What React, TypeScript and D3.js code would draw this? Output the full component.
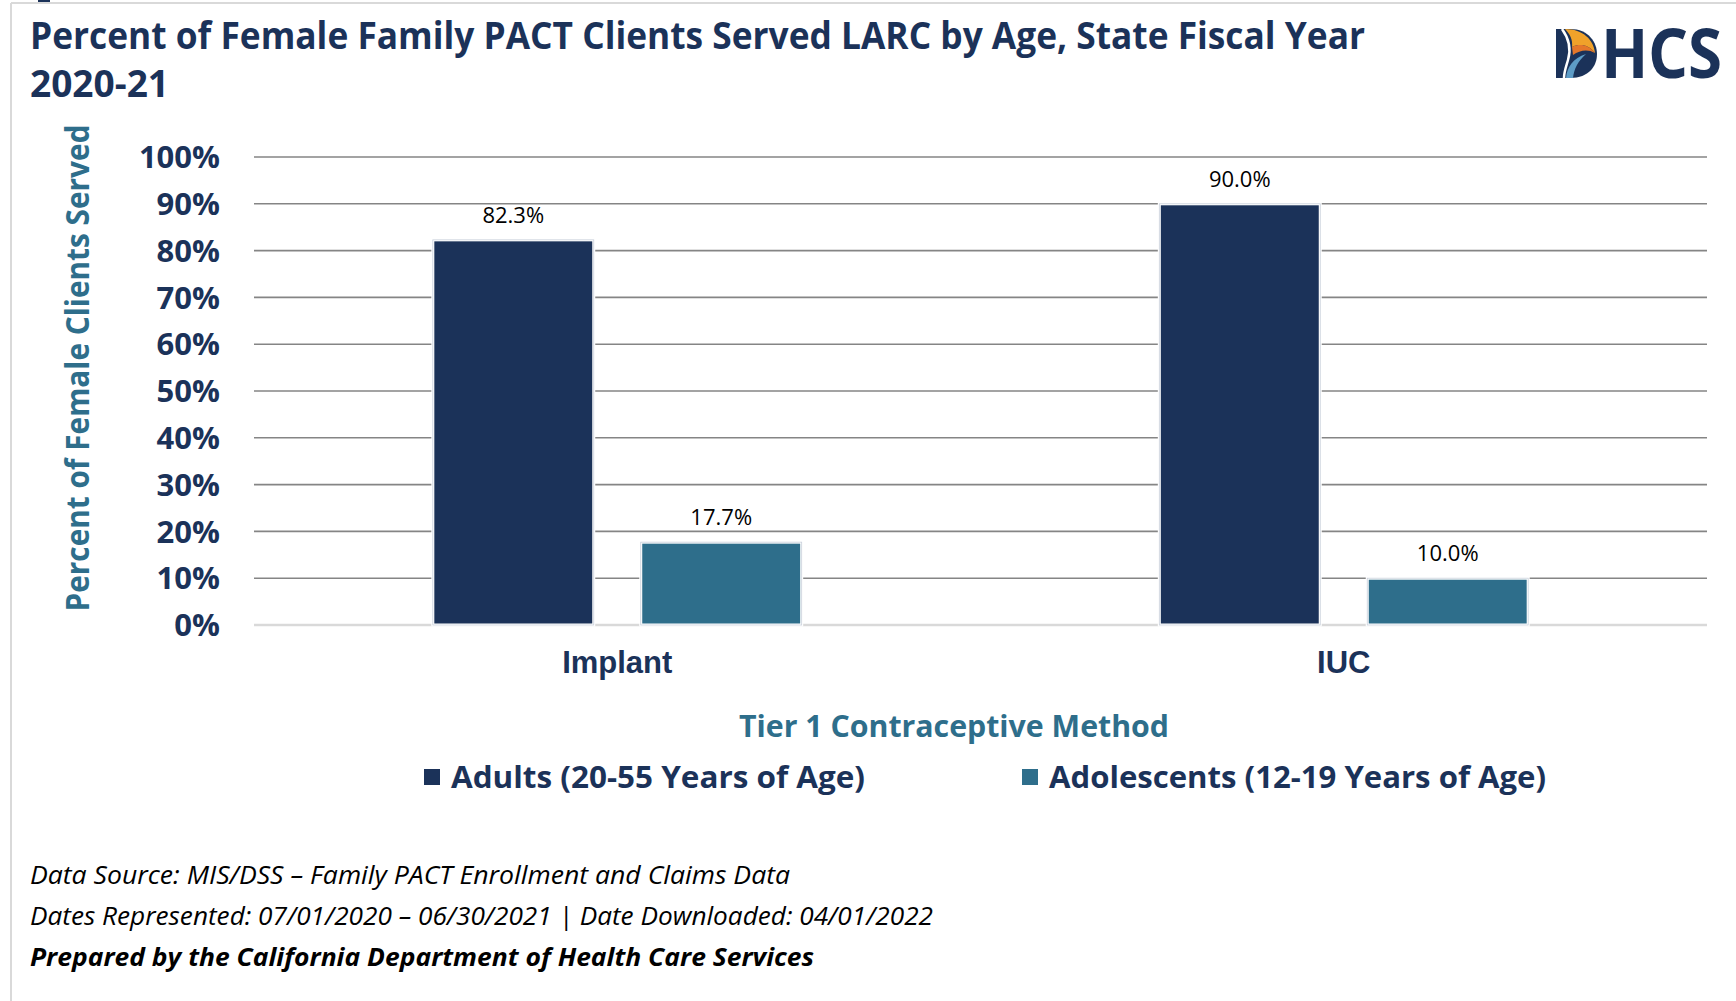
import * as d3 from "d3";

// ── Data ──────────────────────────────────────────────────────────────────────

const categories = ["Implant", "IUC"];
const seriesNames = ["Adults (20-55 Years of Age)", "Adolescents (12-19 Years of Age)"];
const adultValues = [82.3, 90.0];
const adolescentValues = [17.7, 10.0];
const yTickValues = [0, 10, 20, 30, 40, 50, 60, 70, 80, 90, 100];

const titleLines = [
  "Percent of Female Family PACT Clients Served LARC by Age, State Fiscal Year",
  "2020-21",
];
const footerLines = [
  "Data Source: MIS/DSS \u2013 Family PACT Enrollment and Claims Data",
  "Dates Represented: 07/01/2020 \u2013 06/30/2021 | Date Downloaded: 04/01/2022",
  "Prepared by the California Department of Health Care Services",
];

// ── Layout ────────────────────────────────────────────────────────────────────

const W = 1736;
const H = 1001;
const PLOT = { left: 254, right: 1707, top: 157, bottom: 625 };
const NAVY = "#1b3259";
const TEAL = "#2e6e8b";
const FONT = "'Open Sans', 'Noto Sans', sans-serif";

const seriesColors = [NAVY, TEAL];

export default function App() {
  const x0 = d3.scaleBand<string>().domain(categories).range([PLOT.left, PLOT.right]).padding(0);
  const x1 = d3
    .scaleBand<string>()
    .domain(seriesNames)
    .range([0, x0.bandwidth()])
    .paddingInner(0.226)
    .paddingOuter(0.86);
  const y = d3.scaleLinear().domain([0, 100]).range([PLOT.bottom, PLOT.top]);

  const rows = categories.map((c, i) => ({
    category: c,
    values: [adultValues[i], adolescentValues[i]],
  }));

  return (
    <svg
      width={W}
      height={H}
      viewBox={`0 0 ${W} ${H}`}
      style={{ position: "absolute", left: 0, top: 0, background: "#fff" }}
    >
      {/* frame */}
      <line x1={11} x2={W} y1={3} y2={3} stroke="#d9d9d9" strokeWidth={2} />
      <line x1={11} x2={11} y1={3} y2={H} stroke="#d9d9d9" strokeWidth={2} />
      <rect x={38} y={0} width={12} height={2} fill={NAVY} />

      {/* title */}
      <text fontFamily={FONT} fontWeight={700} fontSize={37} fill={NAVY}>
        <tspan x={30} y={49} textLength={1335} lengthAdjust="spacingAndGlyphs">
          {titleLines[0]}
        </tspan>
        <tspan x={30} y={97} textLength={139} lengthAdjust="spacingAndGlyphs">
          {titleLines[1]}
        </tspan>
      </text>

      {/* logo */}
      <g>
        <path d="M1556,29 L1570,29 C1589,29 1597,43 1597,54 C1597,66 1589,78 1570,78 L1556,78 Z" fill={NAVY} />
        <path d="M1562,29 C1570,40 1571,50 1568,60 C1566,67 1564,72 1564,78" fill="none" stroke="#fff" strokeWidth={2.5} />
        <path d="M1565,29 C1583,29 1594,40 1595,53 C1589,45 1580,43 1572,47 C1573,40 1570,34 1565,29 Z" fill="#f0a22a" />
        <path d="M1572,47 C1580,43 1589,45 1595,53 C1588,49 1580,50 1573,55 Z" fill="#e5772a" />
        <path d="M1566,78 C1567,67 1573,58 1586,54 C1578,61 1574,69 1573,78 Z" fill="#5d9cc6" />
        <text
          x={1601}
          y={78}
          fontFamily="'Noto Sans', sans-serif"
          fontWeight={700}
          fontSize={68}
          fill={NAVY}
          textLength={121}
          lengthAdjust="spacingAndGlyphs"
        >
          HCS
        </text>
      </g>

      {/* gridlines */}
      {yTickValues.map((t) => (
        <line
          key={t}
          x1={PLOT.left}
          x2={PLOT.right}
          y1={y(t)}
          y2={y(t)}
          stroke={t === 0 ? "#d9d9d9" : "#858585"}
          strokeWidth={t === 0 ? 2.5 : 1.6}
        />
      ))}

      {/* y tick labels */}
      {yTickValues.map((t) => (
        <text
          key={t}
          x={220}
          y={y(t)}
          dy="0.36em"
          textAnchor="end"
          fontFamily={FONT}
          fontWeight={700}
          fontSize={31}
          fill={NAVY}
        >
          {`${t}%`}
        </text>
      ))}

      {/* y axis title */}
      <text
        transform={`translate(89,${(PLOT.top + PLOT.bottom) / 2 - 23}) rotate(-90)`}
        textAnchor="middle"
        fontFamily={FONT}
        fontWeight={700}
        fontSize={32}
        fill={TEAL}
        textLength={487}
        lengthAdjust="spacingAndGlyphs"
      >
        Percent of Female Clients Served
      </text>

      {/* bars */}
      {rows.map((r) => (
        <g key={r.category} transform={`translate(${x0(r.category)},0)`}>
          {r.values.map((v, j) => {
            const bx = x1(seriesNames[j]) ?? 0;
            const bw = x1.bandwidth();
            return (
              <g key={j}>
                <rect
                  x={bx}
                  y={y(v)}
                  width={bw}
                  height={y(0) - y(v)}
                  fill={seriesColors[j]}
                  stroke="#fff"
                  strokeWidth={3}
                />
                <rect
                  x={bx}
                  y={y(v)}
                  width={bw}
                  height={y(0) - y(v)}
                  fill="none"
                  stroke="#c9d0db"
                  strokeWidth={0.8}
                />
                <text
                  x={bx + bw / 2}
                  y={y(v) - 17}
                  textAnchor="middle"
                  fontFamily={FONT}
                  fontSize={22}
                  fill="#000"
                >
                  {`${v.toFixed(1)}%`}
                </text>
              </g>
            );
          })}
        </g>
      ))}

      {/* category labels */}
      {categories.map((c) => (
        <text
          key={c}
          x={(x0(c) ?? 0) + x0.bandwidth() / 2}
          y={673}
          textAnchor="middle"
          fontFamily="'Liberation Sans', Arial, sans-serif"
          fontWeight={700}
          fontSize={31}
          fill={NAVY}
        >
          {c}
        </text>
      ))}

      {/* x axis title */}
      <text
        x={954}
        y={737}
        textAnchor="middle"
        fontFamily={FONT}
        fontWeight={700}
        fontSize={30}
        fill={TEAL}
        textLength={430}
        lengthAdjust="spacingAndGlyphs"
      >
        Tier 1 Contraceptive Method
      </text>

      {/* legend */}
      {seriesNames.map((s, i) => {
        const lx = [424, 1022][i];
        const tw = [414, 497][i];
        return (
          <g key={s}>
            <rect x={lx} y={769} width={16} height={16} fill={seriesColors[i]} />
            <text
              x={lx + 27}
              y={788}
              fontFamily={FONT}
              fontWeight={700}
              fontSize={31}
              fill={NAVY}
              textLength={tw}
              lengthAdjust="spacingAndGlyphs"
            >
              {s}
            </text>
          </g>
        );
      })}

      {/* footer */}
      {footerLines.map((l, i) => (
        <text
          key={i}
          x={30}
          y={[884, 925, 966][i]}
          fontFamily={FONT}
          fontStyle="italic"
          fontWeight={i === 2 ? 700 : 400}
          fontSize={25}
          fill="#000"
          textLength={[760, 903, 784][i]}
          lengthAdjust="spacingAndGlyphs"
        >
          {l}
        </text>
      ))}
    </svg>
  );
}
